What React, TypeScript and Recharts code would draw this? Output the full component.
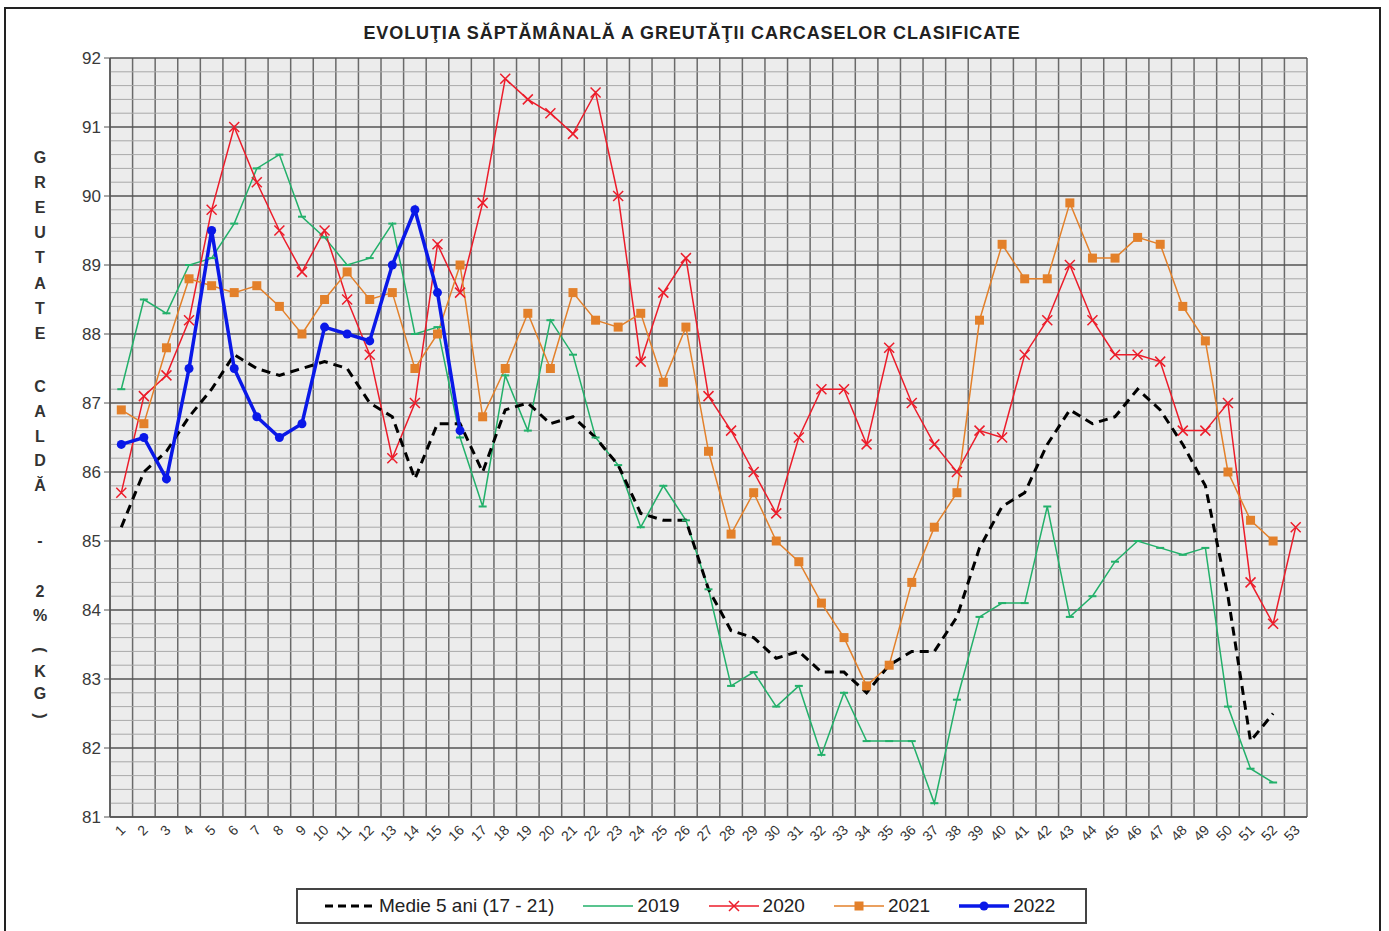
import React from "react";
import { LineChart, Line, XAxis, YAxis, CartesianGrid, ReferenceLine } from "recharts";

// week numbers on the category axis
const weeks = [
  1, 2, 3, 4, 5, 6, 7, 8, 9, 10, 11, 12, 13, 14, 15, 16, 17, 18, 19, 20, 21, 22, 23, 24, 25, 26,
  27, 28, 29, 30, 31, 32, 33, 34, 35, 36, 37, 38, 39, 40, 41, 42, 43, 44, 45, 46, 47, 48, 49, 50,
  51, 52, 53,
];

const yTicks = [81, 82, 83, 84, 85, 86, 87, 88, 89, 90, 91, 92];

const avg5 = [
  85.2, 86.0, 86.3, 86.8, 87.2, 87.7, 87.5, 87.4, 87.5, 87.6, 87.5, 87.0, 86.8, 85.9, 86.7, 86.7,
  86.0, 86.9, 87.0, 86.7, 86.8, 86.5, 86.1, 85.4, 85.3, 85.3, 84.3, 83.7, 83.6, 83.3, 83.4, 83.1,
  83.1, 82.8, 83.2, 83.4, 83.4, 83.9, 84.9, 85.5, 85.7, 86.4, 86.9, 86.7, 86.8, 87.2, 86.9, 86.4,
  85.8, 84.2, 82.1, 82.5, null,
];

const y2019 = [
  87.2, 88.5, 88.3, 89.0, 89.1, 89.6, 90.4, 90.6, 89.7, 89.4, 89.0, 89.1, 89.6, 88.0, 88.1, 86.5,
  85.5, 87.4, 86.6, 88.2, 87.7, 86.5, 86.1, 85.2, 85.8, 85.3, 84.3, 82.9, 83.1, 82.6, 82.9, 81.9,
  82.8, 82.1, 82.1, 82.1, 81.2, 82.7, 83.9, 84.1, 84.1, 85.5, 83.9, 84.2, 84.7, 85.0, 84.9, 84.8,
  84.9, 82.6, 81.7, 81.5, null,
];

const y2020 = [
  85.7, 87.1, 87.4, 88.2, 89.8, 91.0, 90.2, 89.5, 88.9, 89.5, 88.5, 87.7, 86.2, 87.0, 89.3, 88.6,
  89.9, 91.7, 91.4, 91.2, 90.9, 91.5, 90.0, 87.6, 88.6, 89.1, 87.1, 86.6, 86.0, 85.4, 86.5, 87.2,
  87.2, 86.4, 87.8, 87.0, 86.4, 86.0, 86.6, 86.5, 87.7, 88.2, 89.0, 88.2, 87.7, 87.7, 87.6, 86.6,
  86.6, 87.0, 84.4, 83.8, 85.2,
];

const y2021 = [
  86.9, 86.7, 87.8, 88.8, 88.7, 88.6, 88.7, 88.4, 88.0, 88.5, 88.9, 88.5, 88.6, 87.5, 88.0, 89.0,
  86.8, 87.5, 88.3, 87.5, 88.6, 88.2, 88.1, 88.3, 87.3, 88.1, 86.3, 85.1, 85.7, 85.0, 84.7, 84.1,
  83.6, 82.9, 83.2, 84.4, 85.2, 85.7, 88.2, 89.3, 88.8, 88.8, 89.9, 89.1, 89.1, 89.4, 89.3, 88.4,
  87.9, 86.0, 85.3, 85.0, null,
];

const y2022 = [
  86.4, 86.5, 85.9, 87.5, 89.5, 87.5, 86.8, 86.5, 86.7, 88.1, 88.0, 87.9, 89.0, 89.8, 88.6, 86.6,
];

const data = weeks.map((w, i) => ({
  week: w,
  avg: avg5[i] ?? null,
  y2019: y2019[i] ?? null,
  y2020: y2020[i] ?? null,
  y2021: y2021[i] ?? null,
  y2022: y2022[i] ?? null,
}));

// gridline positions: category boundaries and 0.2 kg steps between the labelled ticks
const xBounds = [...weeks.map((w) => w - 0.5), weeks[weeks.length - 1] + 0.5];
const yMinor: number[] = [];
yTicks.slice(0, -1).forEach((t) => {
  for (let k = 1; k < 5; k++) yMinor.push(Math.round((t + k * 0.2) * 10) / 10);
});

const FONT = "Arial, 'Liberation Sans', sans-serif";
const GREEN = "#22b06a";
const RED = "#ec1c2a";
const ORANGE = "#e3802a";
const BLUE = "#0a18e8";

const yLabelGroups = [
  { text: "GREUTATE", start: 158, step: 25.1 },
  { text: "CALDĂ", start: 387, step: 24.75 },
  { text: "-", start: 541, step: 0 },
  { text: "2%", start: 592, step: 24 },
  { text: "(KG)", start: 650, step: 22 },
];

const blank = () => <g />;

const XTick = (props: any) => {
  const { x, y, payload } = props;
  const ax = x + 5;
  const ay = y + 14;
  return (
    <text
      x={ax}
      y={ay}
      transform={`rotate(-45 ${ax} ${ay})`}
      textAnchor="end"
      fontSize={14}
      fontFamily={FONT}
      fill="#333"
    >
      {payload.value}
    </text>
  );
};

const dashDot = (props: any) => {
  const { cx, cy, index } = props;
  if (cx == null || cy == null || props.value == null) return <g key={`g${index}`} />;
  return (
    <line key={`g${index}`} x1={cx - 4} x2={cx + 4} y1={cy} y2={cy} stroke={GREEN} strokeWidth={2} />
  );
};

const crossDot = (props: any) => {
  const { cx, cy, index } = props;
  if (cx == null || cy == null || props.value == null) return <g key={`r${index}`} />;
  return (
    <path
      key={`r${index}`}
      d={`M${cx - 5},${cy - 5}L${cx + 5},${cy + 5}M${cx - 5},${cy + 5}L${cx + 5},${cy - 5}`}
      stroke={RED}
      strokeWidth={1.5}
    />
  );
};

const squareDot = (props: any) => {
  const { cx, cy, index } = props;
  if (cx == null || cy == null || props.value == null) return <g key={`o${index}`} />;
  return <rect key={`o${index}`} x={cx - 4.5} y={cy - 4.5} width={9} height={9} fill={ORANGE} />;
};

const circleDot = (props: any) => {
  const { cx, cy, index } = props;
  if (cx == null || cy == null || props.value == null) return <g key={`b${index}`} />;
  return <circle key={`b${index}`} cx={cx} cy={cy} r={4.5} fill={BLUE} />;
};

const legendItems = [
  { name: "Medie 5 ani (17 - 21)", color: "#000", width: 3, dash: "8 5", marker: "none" },
  { name: "2019", color: GREEN, width: 1.5, dash: undefined, marker: "dash" },
  { name: "2020", color: RED, width: 1.5, dash: undefined, marker: "cross" },
  { name: "2021", color: ORANGE, width: 1.5, dash: undefined, marker: "square" },
  { name: "2022", color: BLUE, width: 3.5, dash: undefined, marker: "circle" },
];

function LegendSymbol({ item }: { item: (typeof legendItems)[number] }) {
  const c = 25;
  const m = 7;
  return (
    <svg width={50} height={14} style={{ display: "block" }}>
      <line x1={0} x2={50} y1={m} y2={m} stroke={item.color} strokeWidth={item.width} strokeDasharray={item.dash} />
      {item.marker === "cross" && (
        <path d={`M${c - 5},${m - 5}L${c + 5},${m + 5}M${c - 5},${m + 5}L${c + 5},${m - 5}`} stroke={item.color} strokeWidth={1.5} />
      )}
      {item.marker === "square" && <rect x={c - 4.5} y={m - 4.5} width={9} height={9} fill={item.color} />}
      {item.marker === "circle" && <circle cx={c} cy={m} r={4.5} fill={item.color} />}
    </svg>
  );
}

export default function App() {
  return (
    <div style={{ position: "relative", width: 1389, height: 931, overflow: "hidden", background: "#fff", fontFamily: FONT }}>
      <style>{`body{margin:0}`}</style>
      <div
        style={{
          position: "absolute",
          left: 4,
          top: 7,
          width: 1377,
          height: 940,
          border: "2px solid #222",
          boxSizing: "border-box",
        }}
      />
      <div
        style={{
          position: "absolute",
          left: 0,
          width: 1384,
          top: 23,
          textAlign: "center",
          fontWeight: "bold",
          fontSize: 18,
          letterSpacing: 0.9,
          color: "#222",
        }}
      >
        EVOLUŢIA SĂPTĂMÂNALĂ A GREUTĂŢII CARCASELOR CLASIFICATE
      </div>
      {yLabelGroups.map((g) =>
        Array.from(g.text).map((ch, i) => (
          <div
            key={`${g.text}-${i}`}
            style={{
              position: "absolute",
              left: 30,
              width: 20,
              top: g.start + i * g.step - 10,
              height: 20,
              lineHeight: "20px",
              textAlign: "center",
              fontWeight: "bold",
              fontSize: 16,
              color: "#333",
              transform: ch === "(" || ch === ")" ? "rotate(90deg)" : undefined,
            }}
          >
            {ch}
          </div>
        ))
      )}
      <div style={{ position: "absolute", left: 0, top: 0 }}>
        <LineChart width={1389} height={931} data={data} margin={{ top: 58, right: 82, bottom: 74, left: 0 }}>
          <CartesianGrid vertical={false} horizontal={false} fill="#ececec" />
          {yMinor.map((v) => (
            <ReferenceLine key={`m${v}`} y={v} stroke="#a9a9a9" strokeWidth={1} />
          ))}
          <CartesianGrid xAxisId="bounds" horizontal={false} stroke="#6a6a6a" strokeWidth={1.5} />
          <CartesianGrid vertical={false} stroke="#555" strokeWidth={1.5} />
          <XAxis
            dataKey="week"
            type="number"
            domain={[0.5, 53.5]}
            ticks={weeks}
            interval={0}
            height={40}
            tickLine={false}
            tickSize={0}
            tickMargin={0}
            axisLine={{ stroke: "#555", strokeWidth: 1.5 }}
            tick={<XTick />}
          />
          <XAxis
            xAxisId="bounds"
            dataKey="week"
            type="number"
            domain={[0.5, 53.5]}
            ticks={xBounds}
            interval={0}
            height={0}
            axisLine={false}
            tickSize={5}
            tickLine={{ stroke: "#666" }}
            tick={blank}
          />
          <YAxis
            type="number"
            domain={[81, 92]}
            ticks={yTicks}
            interval={0}
            width={110}
            tickSize={6}
            tickMargin={3}
            axisLine={{ stroke: "#555", strokeWidth: 1.5 }}
            tickLine={{ stroke: "#555" }}
            tick={{ fontSize: 17, fill: "#3a3a3a", fontFamily: FONT }}
          />
          <Line type="linear" dataKey="y2019" stroke={GREEN} strokeWidth={1.5} dot={dashDot} isAnimationActive={false} />
          <Line type="linear" dataKey="y2020" stroke={RED} strokeWidth={1.5} dot={crossDot} isAnimationActive={false} />
          <Line type="linear" dataKey="y2021" stroke={ORANGE} strokeWidth={1.5} dot={squareDot} isAnimationActive={false} />
          <Line
            type="linear"
            dataKey="avg"
            stroke="#000"
            strokeWidth={3}
            strokeDasharray="9 6"
            dot={false}
            isAnimationActive={false}
          />
          <Line type="linear" dataKey="y2022" stroke={BLUE} strokeWidth={3.5} dot={circleDot} isAnimationActive={false} />
        </LineChart>
      </div>
      <div
        style={{
          position: "absolute",
          left: 296,
          top: 888,
          width: 791,
          height: 36,
          border: "2px solid #444",
          boxSizing: "border-box",
          display: "flex",
          alignItems: "center",
          paddingLeft: 27,
          gap: 29,
          fontSize: 19,
          color: "#222",
        }}
      >
        {legendItems.map((it) => (
          <div key={it.name} style={{ display: "flex", alignItems: "center", gap: 4 }}>
            <LegendSymbol item={it} />
            <span>{it.name}</span>
          </div>
        ))}
      </div>
    </div>
  );
}
